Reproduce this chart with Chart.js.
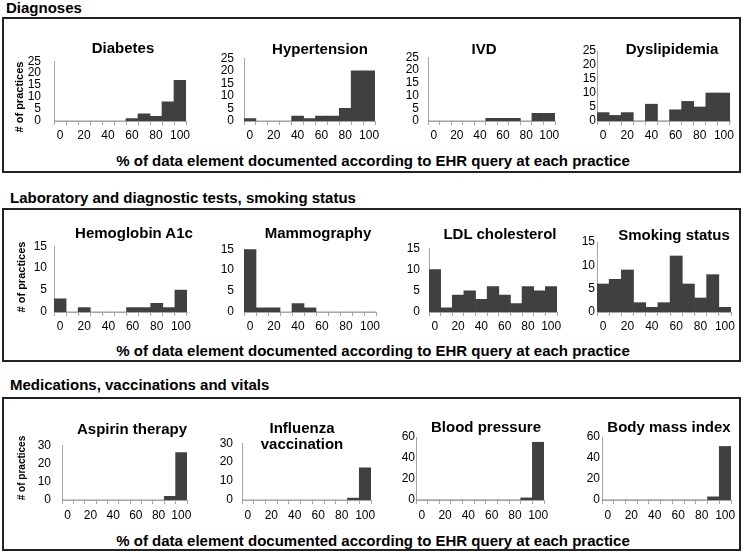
<!DOCTYPE html>
<html>
<head>
<meta charset="utf-8">
<script src="https://cdn.jsdelivr.net/npm/chart.js@4.4.0/dist/chart.umd.min.js"></script>
<style>
body{margin:0;background:#fff;font-family:"Liberation Sans",Arial,sans-serif;}
#page{position:relative;width:747px;height:553px;overflow:hidden;}
.box{position:absolute;border:2px solid #222;box-sizing:border-box;}
.head,.ttl,.xt,.yt{position:absolute;font-weight:bold;color:#000;white-space:nowrap;z-index:2;}
.head{font-size:15px;transform:translate(0,-50%);}
.ttl{font-size:15px;text-align:center;line-height:16px;transform:translate(-50%,-50%);}
.xt{font-size:15px;transform:translate(-50%,-50%);}
.yt{transform:translate(-50%,-50%) rotate(-90deg);}
canvas{position:absolute;z-index:1;}
</style>
</head>
<body>
<div id="page"></div>
<script>
// histogram bins (% documented)
const bins = ['0','10','20','30','40','50','60','70','80','90','100'];

// row 1 - diagnoses
const diabetes     = [0,0,0,0,0,0,1,3,2,8,17];
const hypertension = [1,0,0,0,2,1,2,2,5,20,20];
const ivd          = [0,0,0,0,0,1,1,1,0,3,3];
const dyslipidemia = [3,2,3,0,6,0,4,7,5,10,10];
// row 2 - lab tests, smoking
const hba1c        = [3,0,1,0,0,0,1,1,2,1,5];
const mammography  = [15,1,1,0,2,1,0,0,0,0,0];
const ldl          = [10,1,4,5,3,6,4,2,6,5,6];
const smoking      = [6,7,9,2,1,2,12,6,3,8,1];
// row 3 - meds, vaccinations, vitals
const aspirin      = [0,0,0,0,0,0,0,0,0,2,26];
const influenza    = [0,0,0,0,0,0,0,0,0,1,17];
const bloodPressure= [0,0,0,0,0,0,0,0,0,2,55];
const bmi          = [0,0,0,0,0,0,0,0,0,3,51];

const sections = ['Diagnoses','Laboratory and diagnostic tests, smoking status','Medications, vaccinations and vitals'];
const xTitle = '% of data element documented according to EHR query at each practice';
const yTitle = '# of practices';

Chart.defaults.font.family = '"Liberation Sans", Arial, sans-serif';
Chart.defaults.color = '#000';

var page = document.getElementById('page');

function addDiv(cls, text, x, y, extra){
    var d = document.createElement('div');
    d.className = cls;
    d.innerHTML = text;
    d.style.left = x + 'px';
    d.style.top = y + 'px';
    if(extra) Object.assign(d.style, extra);
    page.appendChild(d);
}

// boxes + section text
var boxes = [[2,17,741,173],[2,208,741,362],[2,397,741,551]];
var headY = [7,197,384];
var xtY = [160,350,540];
var ytPos = [[19,97,11],[21,277,11],[21,468,10]];
boxes.forEach(function(b, i){
    var d = document.createElement('div');
    d.className = 'box';
    d.style.left = b[0]+'px'; d.style.top = b[1]+'px';
    d.style.width = (b[2]-b[0])+'px'; d.style.height = (b[3]-b[1])+'px';
    page.appendChild(d);
    addDiv('head', sections[i], i === 0 ? 6 : 10, headY[i]);
    addDiv('xt', xTitle, 373, xtY[i]);
    addDiv('yt', yTitle, ytPos[i][0], ytPos[i][1], {fontSize: ytPos[i][2]+'px'});
});

// x0,x1 = plot left/right, y0,y1 = plot top/bottom
var panels = [
    {v:diabetes, t:'Diabetes', max:25, step:5, x0:54, x1:186, y0:51, y1:121, gap:13, tx:123, ty:48},
    {v:hypertension, t:'Hypertension', max:25, step:5, x0:244, x1:375, y0:51, y1:121, gap:10, tx:320, ty:49},
    {v:ivd, t:'IVD', max:25, step:5, x0:428, x1:555, y0:51, y1:121, gap:9, tx:484, ty:49},
    {v:dyslipidemia, t:'Dyslipidemia', max:25, step:5, x0:597, x1:730, y0:51, y1:121, gap:1, tx:672, ty:49},
    {v:hba1c, t:'Hemoglobin A1c', max:15, step:5, x0:54, x1:187, y0:242, y1:312, gap:7, tx:134, ty:233},
    {v:mammography, t:'Mammography', max:15, step:5, x0:244, x1:376, y0:242, y1:312, gap:10, tx:318, ty:233},
    {v:ldl, t:'LDL cholesterol', max:15, step:5, x0:429, x1:557, y0:242, y1:312, gap:9, tx:500, ty:234},
    {v:smoking, t:'Smoking status', max:15, step:5, x0:597, x1:731, y0:242, y1:312, gap:2, tx:674, ty:235},
    {v:aspirin, t:'Aspirin therapy', max:30, step:10, x0:62, x1:187, y0:437, y1:500, gap:11, tx:132, ty:429},
    {v:influenza, t:'Influenza<br>vaccination', max:30, step:10, x0:242, x1:371, y0:437, y1:500, gap:9, tx:302, ty:436},
    {v:bloodPressure, t:'Blood pressure', max:60, step:20, x0:416, x1:544, y0:437, y1:500, gap:1, tx:486, ty:427},
    {v:bmi, t:'Body mass index', max:60, step:20, x0:602, x1:731, y0:437, y1:500, gap:2, tx:669, ty:427}
];

function makeChart(p){
    var yW = 40, padT = 10, padR = 10, xH = 26;
    var left = p.x0 - yW, top = p.y0 - padT;
    var w = p.x1 + padR - left, h = p.y1 + xH - top;
    var c = document.createElement('canvas');
    c.width = w; c.height = h;
    c.style.left = left+'px'; c.style.top = top+'px';
    c.style.width = w+'px'; c.style.height = h+'px';
    page.appendChild(c);
    new Chart(c, {
        type: 'bar',
        data: {
            labels: bins,
            datasets: [{data: p.v, backgroundColor: '#404040', borderWidth: 0, barPercentage: 1, categoryPercentage: 1}]
        },
        options: {
            responsive: false,
            animation: false,
            layout: {padding: {top: padT, right: padR, left: 0, bottom: 0}},
            plugins: {legend: {display: false}, tooltip: {enabled: false}},
            scales: {
                x: {
                    grid: {display: true, drawOnChartArea: false, drawTicks: true, tickLength: 4, color: '#a6a6a6', offset: true},
                    border: {color: '#a6a6a6'},
                    ticks: {autoSkip: false, maxRotation: 0, minRotation: 0, padding: p.y0 > 400 ? 4 : 3, font: {size: 12},
                        callback: function(v, i){ return i % 2 === 0 ? bins[i] : ''; }},
                    afterFit: function(s){ s.height = xH; }
                },
                y: {
                    min: 0, max: p.max,
                    grid: {display: false, drawTicks: false},
                    border: {color: '#a6a6a6'},
                    ticks: {stepSize: p.step, autoSkip: false, padding: p.gap, font: {size: 12}},
                    afterFit: function(s){ s.width = yW; }
                }
            }
        }
    });
    addDiv('ttl', p.t, p.tx, p.ty);
}

panels.forEach(makeChart);
</script>
</body>
</html>
